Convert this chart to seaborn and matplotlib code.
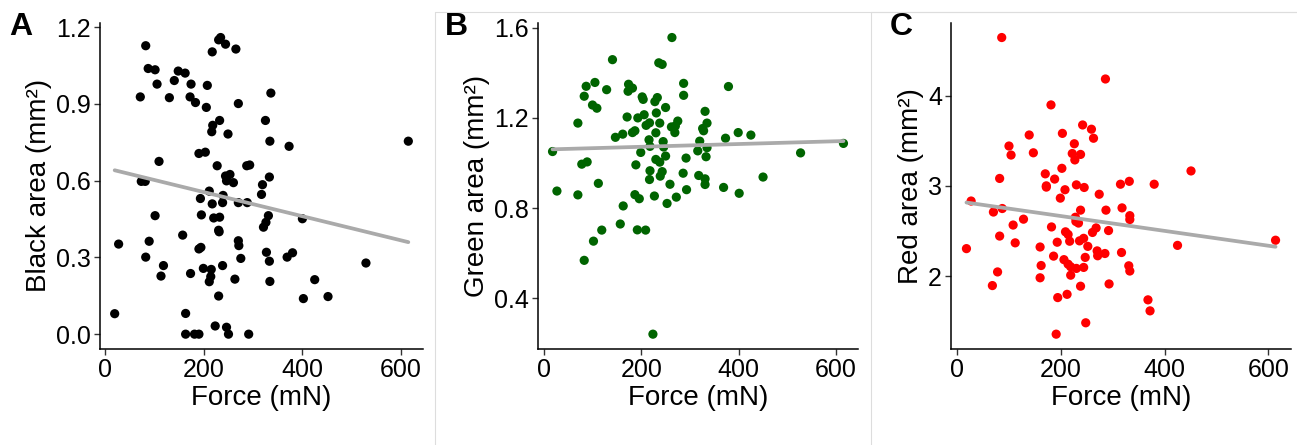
import numpy as np
import matplotlib
matplotlib.use("Agg")
import matplotlib.pyplot as plt
from matplotlib.lines import Line2D
import seaborn as sns

# ---- data ----
force_a = [19, 27, 71, 82, 87, 101, 105, 73, 81, 109, 101, 89, 82, 118, 113,
           130, 140, 148, 162, 174, 172, 183, 207, 205, 217, 234, 230, 244, 265,
           270, 336, 218, 216, 232, 249, 190, 203, 227, 244, 253, 246, 260, 211,
           217, 239, 238, 193, 195, 220, 232, 230, 231, 157, 190, 194, 199, 215,
           211, 214, 238, 173, 263, 270, 271, 270, 288, 287, 293, 275, 230, 163,
           163, 181, 190, 223, 246, 250, 291, 319, 317, 325, 334, 333, 331, 326,
           321, 327, 333, 334, 373, 369, 380, 400, 402, 425, 452, 529, 615]
black_area = [0.080, 0.352, 0.927, 1.127, 1.038, 1.033, 0.977, 0.597, 0.597,
              0.675, 0.463, 0.363, 0.301, 0.268, 0.227, 0.924, 0.991, 1.028,
              1.020, 0.977, 0.927, 0.905, 0.972, 0.886, 1.103, 1.159, 1.150,
              1.133, 1.114, 0.901, 0.942, 0.816, 0.791, 0.835, 0.782, 0.706,
              0.711, 0.658, 0.618, 0.624, 0.599, 0.592, 0.559, 0.509, 0.542,
              0.514, 0.530, 0.466, 0.454, 0.457, 0.406, 0.400, 0.387, 0.333,
              0.339, 0.257, 0.253, 0.205, 0.225, 0.268, 0.237, 0.215, 0.365,
              0.346, 0.514, 0.514, 0.658, 0.661, 0.296, 0.149, 0.081, 0.0,
              0.0, 0.0, 0.032, 0.027, 0.0, 0.0, 0.584, 0.546, 0.835, 0.754,
              0.614, 0.463, 0.437, 0.418, 0.320, 0.285, 0.206, 0.734, 0.301,
              0.318, 0.451, 0.139, 0.213, 0.147, 0.278, 0.754]

force_b = [18, 27, 70, 70, 78, 89, 83, 87, 105, 100, 109, 83, 102, 119, 112,
           129, 141, 147, 162, 157, 163, 171, 174, 182, 173, 182, 187, 189, 187,
           196, 192, 209, 193, 206, 202, 204, 199, 210, 217, 216, 218, 218, 217,
           227, 224, 230, 231, 228, 233, 238, 236, 243, 250, 245, 246, 230, 238,
           250, 243, 239, 253, 259, 263, 262, 270, 275, 269, 272, 287, 287, 292,
           286, 293, 316, 320, 335, 326, 328, 331, 335, 333, 318, 331, 331, 369,
           373, 379, 399, 401, 425, 450, 527, 615]
green_area = [1.051, 0.876, 1.177, 0.859, 0.995, 1.005, 1.296, 1.340, 1.357,
              1.257, 1.243, 0.569, 0.654, 0.703, 0.910, 1.325, 1.458, 1.114,
              1.128, 0.730, 0.810, 1.204, 1.349, 1.332, 1.318, 1.135, 1.143,
              0.992, 0.860, 0.842, 0.704, 0.703, 1.200, 1.214, 1.293, 1.282,
              1.047, 1.167, 1.178, 1.103, 1.074, 0.966, 0.927, 0.854, 0.242,
              1.134, 1.222, 1.272, 1.290, 1.177, 1.444, 1.437, 1.246, 1.095,
              1.071, 1.016, 1.004, 1.031, 0.962, 0.942, 0.821, 0.906, 1.556,
              1.160, 1.164, 1.186, 1.135, 0.849, 1.353, 1.300, 1.022, 0.955,
              0.882, 1.054, 1.097, 1.068, 1.153, 1.143, 1.229, 1.177, 1.028,
              0.945, 0.930, 0.905, 0.892, 1.110, 1.339, 1.135, 0.866, 1.124,
              0.938, 1.045, 1.087]

force_c = [18, 27, 86, 70, 87, 82, 82, 78, 68, 100, 104, 108, 112, 128, 139,
           147, 160, 162, 160, 170, 172, 172, 181, 182, 186, 188, 193, 194, 191,
           199, 202, 203, 208, 206, 214, 219, 209, 214, 212, 217, 219, 222, 227,
           226, 238, 230, 245, 228, 229, 234, 238, 230, 244, 236, 244, 238, 242,
           247, 248, 252, 259, 263, 261, 268, 270, 271, 285, 274, 286, 287, 292,
           293, 315, 332, 318, 317, 333, 333, 331, 333, 368, 372, 380, 425, 451,
           614]
red_area = [2.305, 2.832, 4.642, 2.710, 2.749, 3.082, 2.444, 2.047, 1.896,
            3.441, 3.341, 2.566, 2.369, 2.631, 3.563, 3.366, 2.323, 2.118,
            1.982, 3.133, 3.000, 2.986, 3.896, 2.545, 2.222, 3.075, 2.376,
            1.763, 1.358, 2.864, 3.194, 3.581, 2.957, 2.183, 2.133, 2.104,
            2.491, 2.462, 1.799, 2.387, 2.011, 3.358, 3.287, 3.466, 3.348,
            3.011, 2.982, 2.652, 2.606, 2.588, 2.731, 2.086, 2.097, 2.391,
            2.419, 1.889, 3.674, 2.208, 1.484, 2.330, 3.627, 3.527, 2.484,
            2.534, 2.280, 2.226, 2.251, 2.907, 4.183, 2.731, 2.505, 1.914,
            3.018, 3.050, 2.756, 2.262, 2.670, 2.627, 2.115, 2.057, 1.738,
            1.616, 3.018, 2.341, 3.165, 2.398]

x_ticks = [0, 200, 400, 600]
panels = [
    ("A", force_a, black_area, "black", "Black area (mm²)",
     [0.0, 0.3, 0.6, 0.9, 1.2], "%.1f"),
    ("B", force_b, green_area, "#006400", "Green area (mm²)",
     [0.4, 0.8, 1.2, 1.6], "%.1f"),
    ("C", force_c, red_area, "#ff0000", "Red area (mm²)",
     [2, 3, 4], "%d"),
]

sns.set_style("ticks")
plt.rcParams["font.family"] = ["Liberation Sans", "DejaVu Sans"]
plt.rcParams["text.color"] = "black"
plt.rcParams["axes.labelcolor"] = "black"

W, H = 1297, 445
fig = plt.figure(figsize=(W / 100, H / 100), dpi=100)

# axes boxes in pixels: left, right
boxes = [(100, 423), (538, 858), (951, 1291)]
top_px, bottom_px = 22.7, 349
letter_x = [9, 445, 890]

for (letter, fx, fy, col, ylab, yt, fmt), (l, r), lx in zip(panels, boxes, letter_x):
    ax = fig.add_axes([l / W, 1 - bottom_px / H, (r - l) / W, (bottom_px - top_px) / H])
    sns.regplot(x=np.array(fx, dtype=float), y=np.array(fy), ax=ax, ci=None,
                scatter_kws=dict(s=44, color=col, edgecolor="none", alpha=1, zorder=2),
                line_kws=dict(color="#aaaaaa", lw=2.7, zorder=3))
    sns.despine(ax=ax)
    ax.margins(x=0.05, y=0.05)
    ax.set_xticks(x_ticks)
    ax.set_yticks(yt)
    ax.set_yticklabels([fmt % v for v in yt])
    ax.tick_params(labelsize=18, length=4, width=1, color="#333333",
                   labelcolor="black", pad=2.5)
    for s in ("left", "bottom"):
        ax.spines[s].set_linewidth(1.1)
        ax.spines[s].set_color("black")
    ax.set_xlabel("Force (mN)", fontsize=20, labelpad=2, color="black")
    ax.set_ylabel(ylab, fontsize=20, labelpad=3, color="black")
    fig.text(lx / W, 1 - 27 / H, letter, fontsize=23, fontweight="bold",
             va="center", ha="left", color="black")

# thin frames of panels B and C
for x0 in (435, 871):
    fig.add_artist(Line2D([x0 / W, x0 / W], [0, 1 - 12 / H], color="#dddddd", lw=0.8))
    fig.add_artist(Line2D([x0 / W, 1], [1 - 12 / H, 1 - 12 / H], color="#dddddd", lw=0.8))

fig.savefig("out.png", dpi=100, facecolor="white")
